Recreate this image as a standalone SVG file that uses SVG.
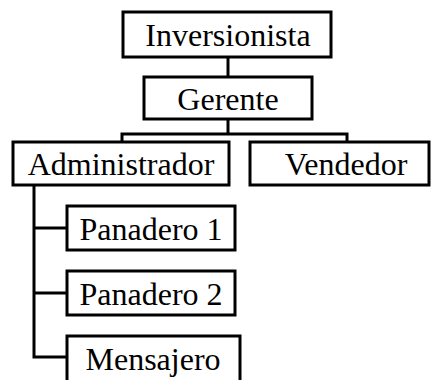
<svg xmlns="http://www.w3.org/2000/svg" width="433" height="380" viewBox="0 0 433 380">
  <style>
    .box { fill: #fff; stroke: #000; stroke-width: 3; }
    .lbl { font-family: "Liberation Serif", "Times New Roman", serif; font-size: 32px; fill: #000; text-anchor: middle; }
    .wire { fill: none; stroke: #000; stroke-width: 3; }
  </style>
  <rect width="433" height="380" fill="#fff"/>
  <g id="connectors">
    <path class="wire" d="M228 57 V77"/>
    <path class="wire" d="M228 119 V134 M122 142 V134 H347 V142"/>
    <path class="wire" d="M34 185 V357 H67 M34 228 H67 M34 293 H67"/>
  </g>
  <g id="inversionista">
    <rect class="box" x="123" y="12" width="208" height="45"/>
    <text class="lbl" x="228" y="46">Inversionista</text>
  </g>
  <g id="gerente">
    <rect class="box" x="144" y="77" width="168" height="42"/>
    <text class="lbl" x="228" y="110">Gerente</text>
  </g>
  <g id="administrador">
    <rect class="box" x="13" y="142" width="216" height="43"/>
    <text class="lbl" x="121" y="175">Administrador</text>
  </g>
  <g id="vendedor">
    <rect class="box" x="250" y="142" width="179" height="43"/>
    <text class="lbl" x="346" y="175">Vendedor</text>
  </g>
  <g id="panadero1">
    <rect class="box" x="67" y="206" width="168" height="44"/>
    <text class="lbl" x="151" y="240">Panadero 1</text>
  </g>
  <g id="panadero2">
    <rect class="box" x="67" y="271" width="168" height="44"/>
    <text class="lbl" x="151" y="305">Panadero 2</text>
  </g>
  <g id="mensajero">
    <rect class="box" x="67" y="336" width="173" height="50"/>
    <text class="lbl" x="153" y="370">Mensajero</text>
  </g>
</svg>
